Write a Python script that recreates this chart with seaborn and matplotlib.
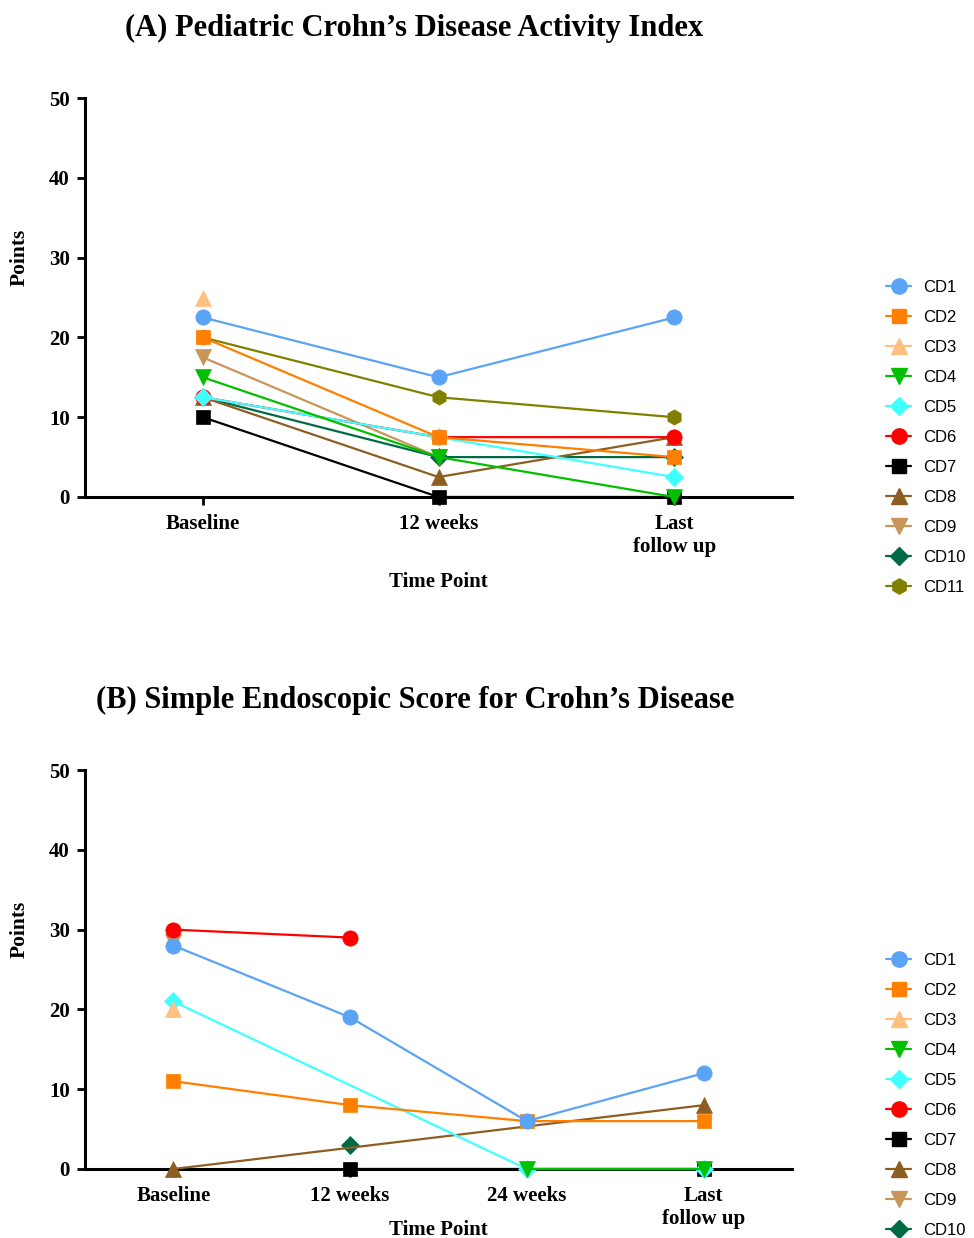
import numpy as np
import pandas as pd
import matplotlib
matplotlib.use("Agg")
import matplotlib.pyplot as plt
from matplotlib.lines import Line2D
import seaborn as sns

nan = np.nan

patients = ["CD1", "CD2", "CD3", "CD4", "CD5", "CD6", "CD7", "CD8", "CD9", "CD10", "CD11"]
colors = ["#5BA3F5", "#FF7F00", "#FFC080", "#00C000", "#40FFFF", "#FF0000",
          "#000000", "#8C5E22", "#C8965A", "#006A45", "#808000"]
markers = ["o", "s", "^", "v", "D", "o", "s", "^", "v", "D", "h"]

# (A) PCDAI
time_a = ["Baseline", "12 weeks", "Last\nfollow up"]
pcdai_baseline = [22.5, 20, 25, 15, 12.5, 12.5, 10, 12.5, 17.5, 12.5, 20]
pcdai_12w = [15, 7.5, nan, 5, 7.5, 7.5, 0, 2.5, 5, 5, 12.5]
pcdai_last = [22.5, 5, nan, 0, 2.5, 7.5, 0, 7.5, nan, 5, 10]

# (B) SES-CD
time_b = ["Baseline", "12 weeks", "24 weeks", "Last\nfollow up"]
ses_baseline = [28, 11, 20, nan, 21, 30, nan, 0, 28.5, nan, nan]
ses_12w = [19, 8, nan, nan, nan, 29, 0, nan, nan, 3, nan]
ses_24w = [6, 6, nan, 0, 0, nan, nan, nan, nan, nan, nan]
ses_last = [12, 6, nan, 0, 0, nan, 0, 8, nan, nan, nan]


def long_df(times, cols):
    rows = []
    for ti, col in enumerate(cols):
        for p, v in zip(patients, col):
            rows.append({"patient": p, "t": ti, "value": v})
    return pd.DataFrame(rows).dropna()


df_a = long_df(time_a, [pcdai_baseline, pcdai_12w, pcdai_last])
df_b = long_df(time_b, [ses_baseline, ses_12w, ses_24w, ses_last])

sns.set_style("ticks")
plt.rcParams["font.family"] = ["Liberation Serif", "DejaVu Serif"]
plt.rcParams["text.color"] = "black"
plt.rcParams["axes.labelcolor"] = "black"
plt.rcParams["xtick.color"] = "black"
plt.rcParams["ytick.color"] = "black"
plt.rcParams["axes.edgecolor"] = "black"

W, H = 974, 1238
fig = plt.figure(figsize=(W / 100, H / 100), dpi=100)

serif = ["Liberation Serif", "DejaVu Serif"]
sans = ["Liberation Sans", "DejaVu Sans"]


def msize(m):
    return {"D": 9.5, "h": 11, "s": 10.5}.get(m, 11)


def draw_panel(ax, df, times, xlabel_y):
    n = len(patients)
    for i in range(n - 1, -1, -1):
        p = patients[i]
        sub = df[df["patient"] == p]
        if sub.empty:
            continue
        sns.lineplot(data=sub, x="t", y="value", ax=ax, color=colors[i],
                     marker=markers[i], markersize=msize(markers[i]),
                     markeredgecolor=colors[i], markeredgewidth=0.5,
                     linewidth=1.6, errorbar=None, legend=False,
                     zorder=10 + (n - i), clip_on=False)
    ax.set_xlim(-0.5, len(times) - 0.5)
    ax.set_ylim(0, 50)
    ax.set_xticks(range(len(times)))
    ax.set_xticklabels(times, fontsize=15, fontweight="bold", family=serif,
                       linespacing=1.2)
    ax.set_yticks([0, 10, 20, 30, 40, 50])
    ax.set_yticklabels(["0", "10", "20", "30", "40", "50"], fontsize=15,
                       fontweight="bold", family=serif)
    for s in ["top", "right"]:
        ax.spines[s].set_visible(False)
    for s in ["left", "bottom"]:
        ax.spines[s].set_linewidth(2.2)
        ax.spines[s].set_zorder(5)
    ax.tick_params(axis="both", width=2.0, length=6, direction="out", pad=5)
    ax.tick_params(axis="x", pad=6.5)
    ax.set_ylabel("Points", fontsize=15.5, fontweight="bold", family=serif)
    ax.yaxis.set_label_coords(-0.078, 0.60)
    ax.set_xlabel("Time Point", fontsize=15, fontweight="bold", family=serif)
    ax.xaxis.set_label_coords(0.5, xlabel_y)
    ax.grid(False)


def add_legend(top_px):
    handles = [Line2D([0], [0], color=colors[i], marker=markers[i],
                      markersize=msize(markers[i]), markeredgecolor=colors[i],
                      linewidth=1.6, label=patients[i])
               for i in range(len(patients))]
    fig.legend(handles=handles, loc="upper left",
               bbox_to_anchor=(886 / W, 1 - top_px / H),
               bbox_transform=fig.transFigure, frameon=False,
               prop={"family": sans, "size": 12}, labelspacing=0.9,
               handlelength=1.5, handletextpad=0.7, borderpad=0,
               borderaxespad=0)


axA = fig.add_axes([85 / W, 1 - 497 / H, 707 / W, 399 / H])
draw_panel(axA, df_a, time_a, -0.187)
axB = fig.add_axes([85 / W, 1 - 1169 / H, 707 / W, 399 / H])
draw_panel(axB, df_b, time_b, -0.128)

fig.text(414 / W, 1 - 28 / H, "(A) Pediatric Crohn\u2019s Disease Activity Index",
         ha="center", va="center", fontsize=22, fontweight="bold", family=serif)
fig.text(415 / W, 1 - 700 / H, "(B) Simple Endoscopic Score for Crohn\u2019s Disease",
         ha="center", va="center", fontsize=22, fontweight="bold", family=serif)

add_legend(280)
add_legend(953)

fig.savefig("out.png", dpi=100)
